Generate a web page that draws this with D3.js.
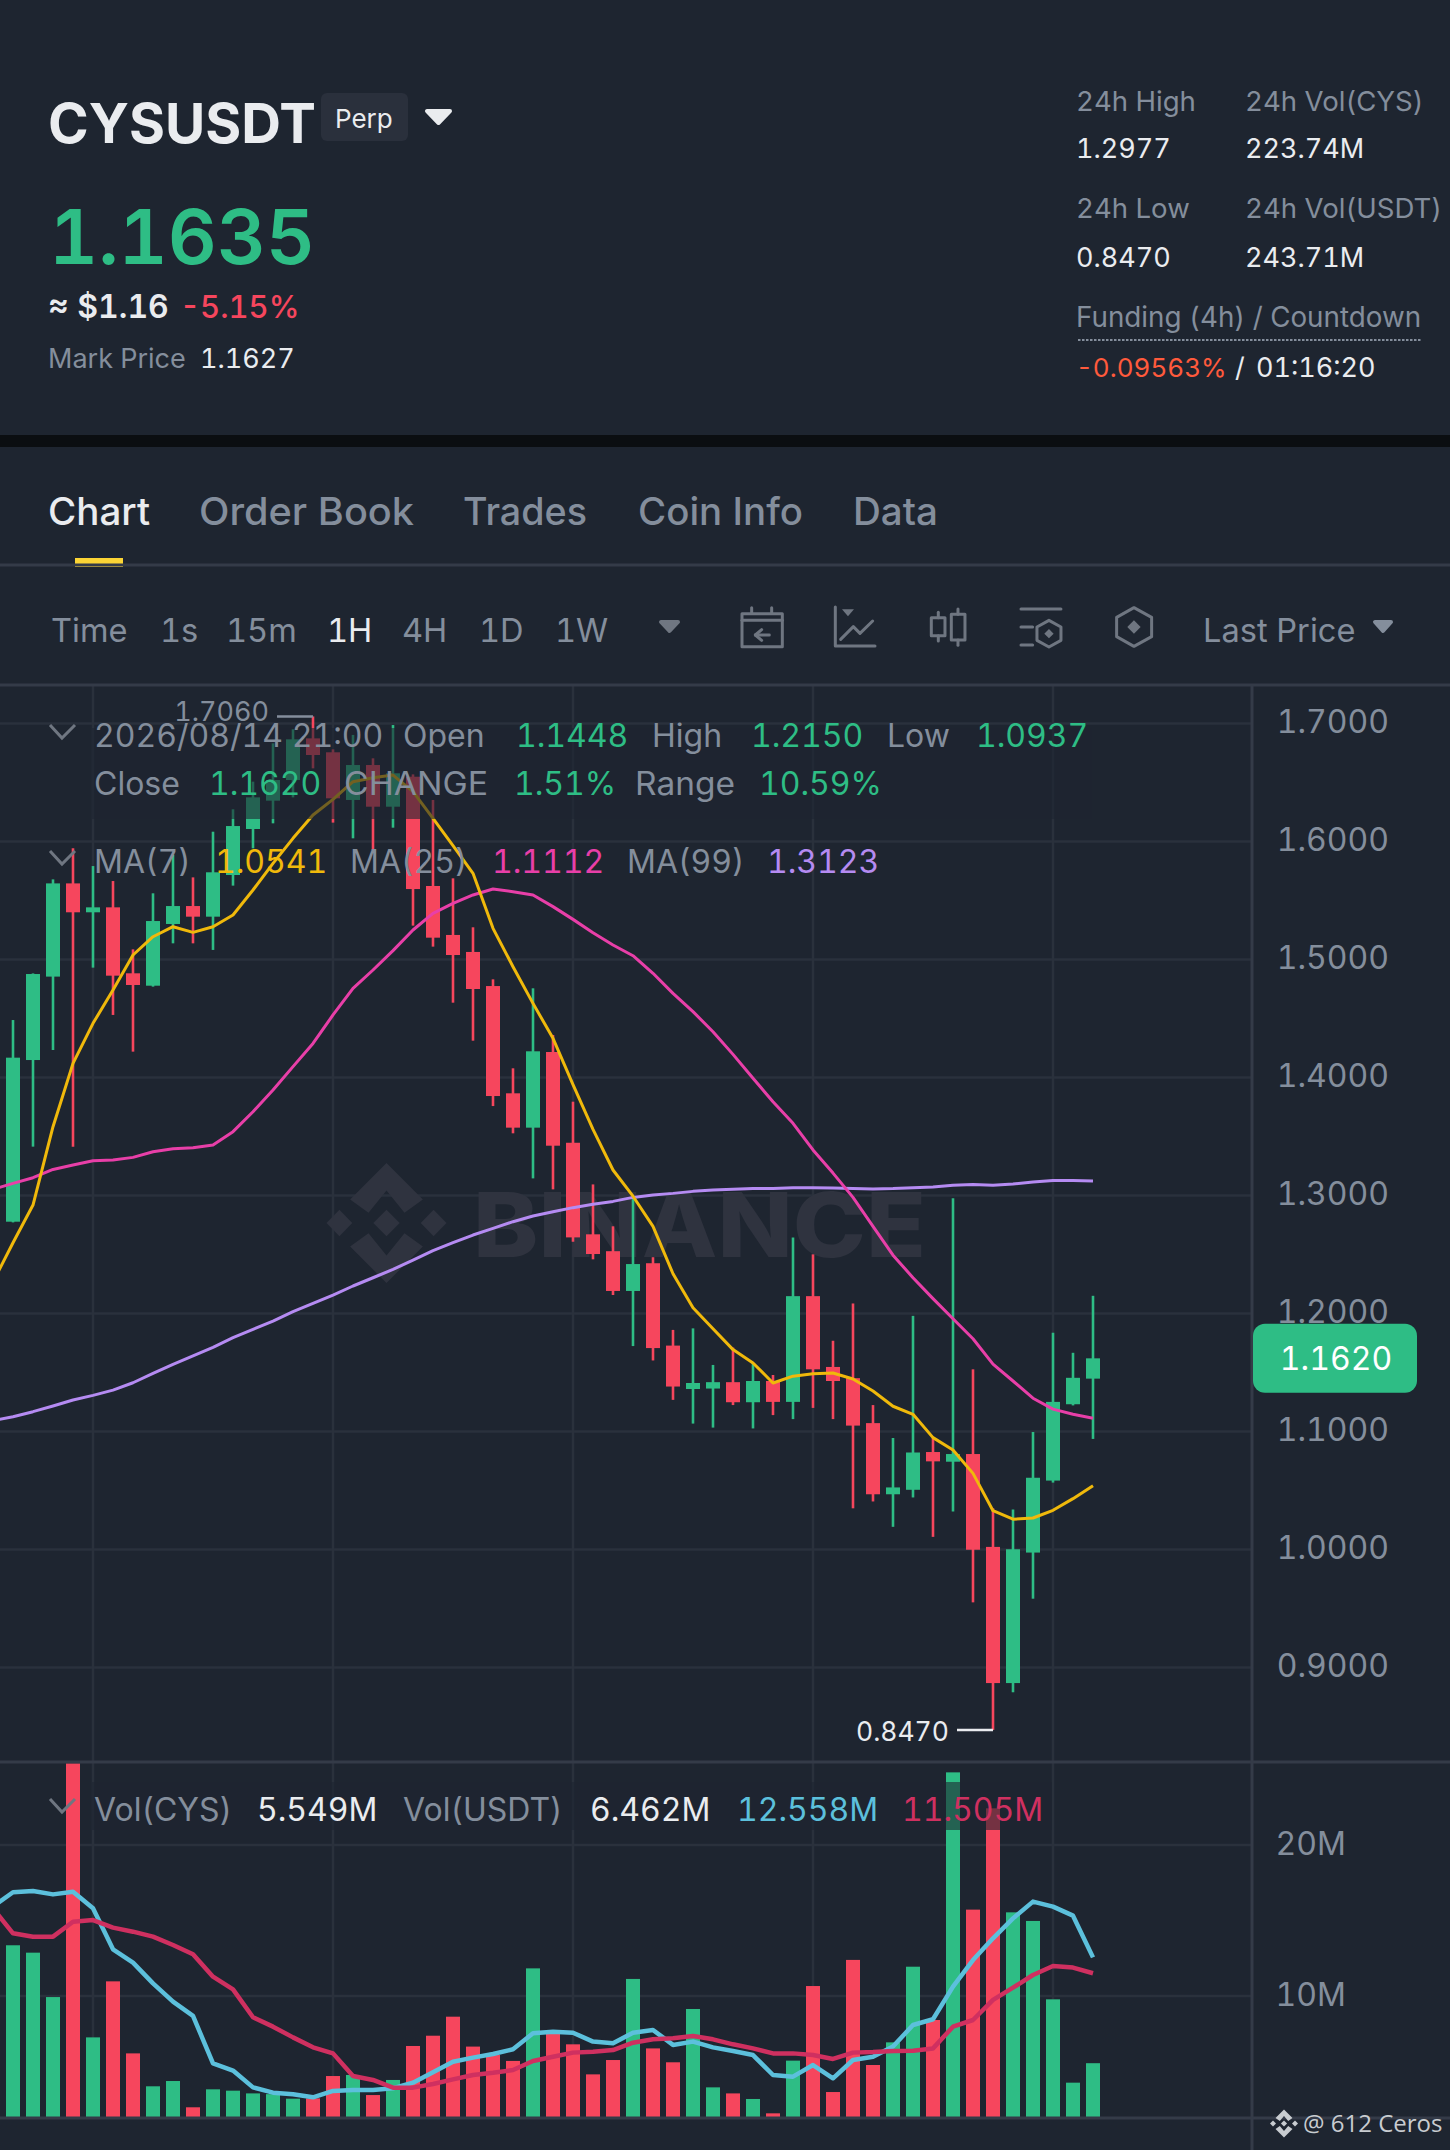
<!DOCTYPE html>
<html lang="en">
<head>
<meta charset="UTF-8">
<title>CYSUSDT Perp</title>
<script src="https://d3js.org/d3.v7.min.js"></script>
<style>
    html, body { margin: 0; padding: 0; background: #1e2530; }
    svg { display: block; }
    text { font-family: Inter, "Noto Sans", sans-serif; font-variant-numeric: tabular-nums; }
</style>
</head>
<body>
<svg id="chart" width="1450" height="2150"></svg>
<script>
// candles
const opens = [1.2778,1.4148,1.4855,1.5645,1.5400,1.5442,1.4883,1.4778,1.5301,1.5453,1.5363,1.5716,1.6106,1.6346,1.6521,1.6874,1.6756,1.6352,1.6648,1.6295,1.6549,1.5623,1.5208,1.5064,1.4775,1.3866,1.3575,1.4216,1.3447,1.2671,1.2528,1.2191,1.2426,1.1728,1.1360,1.1364,1.1418,1.1248,1.1428,1.1251,1.2147,1.1547,1.1452,1.1071,1.0468,1.0506,1.0826,1.0744,1.0809,1.0022,0.8868,0.9974,1.0584,1.1231,1.1448];
const highs = [1.4487,1.4882,1.5679,1.5942,1.5792,1.5665,1.5086,1.5561,1.5886,1.5696,1.6083,1.6273,1.6507,1.6832,1.6951,1.7060,1.6781,1.6903,1.6705,1.6987,1.6569,1.6352,1.5688,1.5273,1.4832,1.4078,1.4756,1.4360,1.3795,1.3094,1.2739,1.2977,1.2477,1.1861,1.1874,1.1564,1.1711,1.1581,1.1479,1.2644,1.2501,1.1769,1.2085,1.1224,1.0945,1.1980,1.0945,1.2977,1.1527,1.0349,1.0339,1.0996,1.1837,1.1667,1.2150];
const lows = [1.2772,1.3414,1.4233,1.3414,1.4931,1.4530,1.4219,1.4770,1.5137,1.5137,1.5081,1.5626,1.5942,1.6154,1.6374,1.6620,1.6160,1.6027,1.5928,1.6117,1.5287,1.5109,1.4634,1.4312,1.3758,1.3527,1.3145,1.3052,1.2608,1.2459,1.2157,1.1724,1.1602,1.1268,1.1067,1.1033,1.1224,1.1026,1.1139,1.1105,1.1200,1.1105,1.0349,1.0407,1.0192,1.0441,1.0107,1.0322,0.9552,0.8470,0.8790,0.9583,1.0567,1.1221,1.0937];
const closes = [1.4168,1.4877,1.5645,1.5400,1.5442,1.4863,1.4784,1.5326,1.5453,1.5363,1.5739,1.6131,1.6374,1.6521,1.6866,1.6733,1.6366,1.6648,1.6295,1.6578,1.5597,1.5185,1.5038,1.4750,1.3843,1.3575,1.4222,1.3422,1.2645,1.2504,1.2191,1.2419,1.1707,1.1381,1.1411,1.1418,1.1248,1.1428,1.1251,1.2147,1.1527,1.1428,1.1050,1.0468,1.0526,1.0822,1.0747,1.0809,0.9998,0.8868,1.0002,1.0608,1.1251,1.1455,1.1620];
const volumes = [13.36,12.87,9.93,25.41,7.26,10.97,6.20,4.02,4.37,2.63,3.82,3.73,3.55,3.50,3.20,3.22,4.70,4.77,3.44,4.44,6.69,7.37,8.63,6.65,6.09,5.70,11.83,7.53,6.80,4.81,5.76,11.13,6.53,5.61,9.14,3.95,3.55,3.18,2.23,5.72,10.66,3.64,12.39,5.43,6.93,11.94,8.41,24.81,15.72,22.43,15.54,14.97,9.78,4.26,5.55];

// moving averages start one bar before the first candle, off the left edge
const ma7 = [1.2267,1.2600,1.2919,1.3583,1.4120,1.4459,1.4741,1.5038,1.5193,1.5278,1.5230,1.5278,1.5377,1.5589,1.5815,1.6027,1.6225,1.6357,1.6507,1.6541,1.6563,1.6422,1.6196,1.5965,1.5730,1.5264,1.4939,1.4628,1.4332,1.3940,1.3560,1.3216,1.2994,1.2739,1.2337,1.2048,1.1871,1.1694,1.1581,1.1411,1.1469,1.1490,1.1496,1.1445,1.1343,1.1214,1.1146,1.0948,1.0843,1.0645,1.0329,1.0257,1.0267,1.0332,1.0431,1.0541];
const ma25 = [1.3052,1.3103,1.3151,1.3221,1.3258,1.3295,1.3301,1.3323,1.3371,1.3397,1.3405,1.3428,1.3541,1.3710,1.3894,1.4092,1.4289,1.4530,1.4756,1.4911,1.5075,1.5250,1.5391,1.5476,1.5547,1.5597,1.5575,1.5547,1.5448,1.5340,1.5227,1.5123,1.5032,1.4883,1.4713,1.4558,1.4388,1.4196,1.3993,1.3795,1.3612,1.3386,1.3190,1.2984,1.2739,1.2494,1.2303,1.2126,1.1956,1.1786,1.1571,1.1428,1.1282,1.1190,1.1146,1.1112];
const ma99 = [1.1092,1.1125,1.1168,1.1216,1.1267,1.1306,1.1351,1.1413,1.1493,1.1569,1.1640,1.1713,1.1795,1.1866,1.1936,1.2015,1.2086,1.2156,1.2233,1.2303,1.2374,1.2453,1.2532,1.2600,1.2665,1.2721,1.2778,1.2826,1.2863,1.2897,1.2925,1.2950,1.2984,1.3005,1.3018,1.3035,1.3046,1.3052,1.3059,1.3059,1.3066,1.3066,1.3063,1.3059,1.3056,1.3059,1.3066,1.3073,1.3086,1.3093,1.3086,1.3097,1.3114,1.3127,1.3127,1.3123];
const volMaA = [15.92,16.87,16.95,16.73,16.91,15.81,13.09,12.21,10.84,9.63,8.68,5.54,5.06,3.95,3.60,3.49,3.29,3.71,3.78,3.78,3.89,4.26,4.95,5.65,5.92,6.16,6.47,7.53,7.64,7.57,6.98,6.87,7.57,7.75,6.76,6.98,6.60,6.36,6.09,4.77,4.66,5.43,4.55,5.76,5.98,6.65,8.08,8.46,10.62,12.38,13.82,15.14,16.25,15.92,15.32,12.558];
const volMaB = [15.81,14.15,13.93,13.93,14.92,15.03,14.53,14.26,13.93,13.38,12.76,11.28,10.44,8.59,7.97,7.26,6.60,6.20,4.70,4.44,3.93,3.93,4.17,4.48,4.77,4.92,5.10,5.70,5.98,6.25,6.31,6.42,6.91,7.13,7.20,7.35,7.13,6.80,6.53,6.20,6.20,6.09,5.83,6.25,6.29,6.36,6.38,6.53,7.97,8.41,9.74,10.55,11.39,11.99,11.88,11.505];

// axes
const priceTicks = [1.7,1.6,1.5,1.4,1.3,1.2,1.1,1.0,0.9];
const volTicks = [20,10];
const timeGridBars = [4,16,28,40,52];

const GREEN = "#2ebd85", RED = "#f6465d", GREY = "#848e9c", WHITE = "#eaecef";
const GRID = "#2a313c", RULE = "#343b48", BG = "#1e2530";
const YELLOW = "#f0b90b", PINK = "#e83fa8", PURPLE = "#b58bf2", SKY = "#5cc0dc", ROSE = "#cf3060";

const svg = d3.select("#chart");
svg.append("rect").attr("width",1450).attr("height",2150).attr("fill",BG);

function txt(parent, x, y, s, size, fill, weight, anchor) {
    return parent.append("text").attr("x",x).attr("y",y).text(s)
        .attr("font-size",size).attr("fill",fill)
        .attr("font-weight",weight || 400).attr("text-anchor",anchor || "start");
}
function tri(parent, x0, x1, y0, y1, fill) {
    parent.append("path")
        .attr("d",`M${x0+2},${y0+2}L${x1-2},${y0+2}L${(x0+x1)/2},${y1-2}Z`)
        .attr("fill",fill).attr("stroke",fill).attr("stroke-width",4).attr("stroke-linejoin","round");
}
function chevron(parent, x, y) {
    parent.append("path").attr("d",`M${x},${y}L${x+12},${y+13}L${x+25},${y}`)
        .attr("fill","none").attr("stroke","#6f7681").attr("stroke-width",3);
}
function binanceLogo(parent, cx, cy, r, fill) {
    const shapes = [
        [[0,-1],[.606,-.39],[.3,-.17],[0,-.54],[-.3,-.17],[-.606,-.39]],
        [[0,1],[.606,.39],[.3,.17],[0,.54],[-.3,.17],[-.606,.39]],
        [[0,-.22],[.22,0],[0,.22],[-.22,0]],
        [[.785,-.22],[1,0],[.785,.22],[.57,0]],
        [[-.785,-.22],[-.57,0],[-.785,.22],[-1,0]]
    ];
    shapes.forEach(s => parent.append("polygon")
        .attr("points",s.map(p => [cx+p[0]*r,cy+p[1]*r].join(",")).join(" "))
        .attr("fill",fill));
}

// header
const head = svg.append("g");
txt(head,48,143,"CYSUSDT",55,WHITE,700);
head.append("rect").attr("x",321).attr("y",93).attr("width",87).attr("height",48).attr("rx",6).attr("fill","#2a303c");
txt(head,335,128,"Perp",26,WHITE,400);
tri(head,425,452,109,125,WHITE);
txt(head,49,264,"1.1635",76,GREEN,600);
txt(head,48,318,"≈ $1.16",32,WHITE,600);
txt(head,180,318,"-5.15%",31,RED,500);
txt(head,48,368,"Mark Price",27,GREY);
txt(head,200,368,"1.1627",27,WHITE);
txt(head,1076,111,"24h High",27.6,GREY);
txt(head,1245,111,"24h Vol(CYS)",27.6,GREY);
txt(head,1076,158,"1.2977",27,WHITE);
txt(head,1245,158,"223.74M",27,WHITE);
txt(head,1076,218,"24h Low",27.6,GREY);
txt(head,1245,218,"24h Vol(USDT)",27.6,GREY);
txt(head,1076,267,"0.8470",27,WHITE);
txt(head,1245,267,"243.71M",27,WHITE);
txt(head,1076,327,"Funding (4h) / Countdown",27.8,GREY);
head.append("line").attr("x1",1078).attr("x2",1422).attr("y1",340).attr("y2",340)
    .attr("stroke",GREY).attr("stroke-width",2).attr("stroke-dasharray","2.5 1.5");
txt(head,1076,377,"-0.09563%",26,"#ff5a3c");
txt(head,1235,377,"/",27,WHITE);
txt(head,1256,377,"01:16:20",27,WHITE);

svg.append("rect").attr("y",435).attr("width",1450).attr("height",12).attr("fill","#0b0e11");

// tabs and toolbar
const tabs = [["Chart",48,WHITE,102],["Order Book",199,GREY,215],["Trades",463,GREY,124],["Coin Info",638,GREY,165],["Data",853,GREY,85]];
tabs.forEach(t => txt(svg,t[1],525,t[0],38,t[2],500).attr("textLength",t[3]).attr("lengthAdjust","spacingAndGlyphs"));
svg.append("rect").attr("x",75).attr("y",558).attr("width",48).attr("height",9).attr("fill","#fcd535");
const tools = [["Time",51,GREY],["1s",160,GREY],["15m",226,GREY],["1H",327,WHITE],["4H",402,GREY],["1D",479,GREY],["1W",555,GREY],["Last Price",1203,GREY]];
tools.forEach(t => txt(svg,t[1],642,t[0],32.6,t[2],400));
tri(svg,659,680,620,633,"#6f7681");
tri(svg,1373,1393,620,633,GREY);

const icons = svg.append("g").attr("transform","translate(730,595) scale(0.3333)")
    .attr("fill","none").attr("stroke","#6f7681").attr("stroke-width",9).attr("stroke-linejoin","round").attr("stroke-linecap","round");
["M36,56H157V155H36Z","M36,76H157","M65,38V52","M125,38V52","M118,120H76","M95,104L76,120L95,136",
 "M316,36V153H435","M332,133L370,95L390,115L428,78",
 "M604,68H645V122H604Z","M625,52V68","M625,122V138","M664,58H705V135H664Z","M684,42V58","M684,135V151",
 "M873,42H993","M873,96H908","M873,150H908","M957,76L993,96V136L957,156L921,136V96Z",
 "M1212,38L1265,67V125L1212,154L1160,125V67Z"].forEach(d => icons.append("path").attr("d",d));
icons.append("path").attr("d","M336,43H372L354,64Z").attr("fill","#6f7681").attr("stroke","none");
icons.append("path").attr("d","M957,102L971,116L957,130L943,116Z").attr("fill","#6f7681").attr("stroke","none");
icons.append("path").attr("d","M1212,76L1232,96L1212,116L1192,96Z").attr("fill","#6f7681").attr("stroke","none");

// scales
const x = d3.scaleLinear().domain([0,54]).range([13,1093]);
const y = d3.scaleLinear().domain([0.9,1.7]).range([1667.5,723.5]);
const yVol = d3.scaleLinear().domain([0,20]).range([2147,1845]);
const volBase = 2117;

// grid
const grid = svg.append("g").attr("stroke",GRID).attr("stroke-width",2.5);
priceTicks.forEach(t => grid.append("line").attr("x1",0).attr("x2",1252).attr("y1",y(t)).attr("y2",y(t)));
volTicks.forEach(t => grid.append("line").attr("x1",0).attr("x2",1252).attr("y1",yVol(t)).attr("y2",yVol(t)));
timeGridBars.forEach(b => {
    grid.append("line").attr("x1",x(b)).attr("x2",x(b)).attr("y1",685).attr("y2",1762);
    grid.append("line").attr("x1",x(b)).attr("x2",x(b)).attr("y1",1762).attr("y2",volBase);
});

// watermark
binanceLogo(svg,386.5,1223,60,"#2f333f");
txt(svg,473,1257,"BINANCE",89,"#2f333f",800).attr("textLength",453).attr("lengthAdjust","spacingAndGlyphs");

// candles
const candles = d3.range(closes.length);
const isUp = i => closes[i] >= opens[i];
const colour = i => isUp(i) ? GREEN : RED;
svg.append("g").selectAll("line").data(candles).join("line")
    .attr("x1",i => x(i)).attr("x2",i => x(i))
    .attr("y1",i => y(highs[i])).attr("y2",i => y(lows[i]))
    .attr("stroke",colour).attr("stroke-width",2.6);
svg.append("g").selectAll("rect").data(candles).join("rect")
    .attr("x",i => x(i)-7).attr("width",14)
    .attr("y",i => y(Math.max(opens[i],closes[i])))
    .attr("height",i => Math.max(2,Math.abs(y(opens[i])-y(closes[i]))))
    .attr("fill",colour);

// volume bars
svg.append("g").selectAll("rect").data(candles).join("rect")
    .attr("x",i => x(i)-7).attr("width",14)
    .attr("y",i => yVol(volumes[i]))
    .attr("height",i => volBase-yVol(volumes[i]))
    .attr("fill",colour);

// moving averages
function maLine(values, scale, stroke, width) {
    const line = d3.line().x((d,i) => x(i-1)).y(d => scale(d));
    svg.append("path").attr("d",line(values)).attr("fill","none")
        .attr("stroke",stroke).attr("stroke-width",width).attr("stroke-linejoin","round");
}
maLine(ma99,y,PURPLE,3);
maLine(ma25,y,PINK,3);
maLine(ma7,y,YELLOW,3);
maLine(volMaA,yVol,SKY,4.5);
maLine(volMaB,yVol,ROSE,4.5);

// high and low markers
txt(svg,269,721,d3.max(highs).toFixed(4),27,GREY,400,"end");
svg.append("line").attr("x1",277).attr("x2",x(highs.indexOf(d3.max(highs)))).attr("y1",y(d3.max(highs))).attr("y2",y(d3.max(highs))).attr("stroke",GREY).attr("stroke-width",2.5);
txt(svg,949,1741,d3.min(lows).toFixed(4),26.5,WHITE,400,"end");
svg.append("line").attr("x1",957).attr("x2",x(lows.indexOf(d3.min(lows)))).attr("y1",y(d3.min(lows))).attr("y2",y(d3.min(lows))).attr("stroke",WHITE).attr("stroke-width",2.5);

// legend backdrops dim whatever is underneath
svg.append("rect").attr("x",92).attr("y",728).attr("width",1000).attr("height",91).attr("fill",BG).attr("fill-opacity",0.6);
svg.append("rect").attr("x",92).attr("y",1782).attr("width",960).attr("height",48).attr("fill",BG).attr("fill-opacity",0.6);

// legends
chevron(svg,50,725);
[["2026/08/14 21:00",94,GREY],["Open",403,GREY],["1.1448",516,GREEN],["High",652,GREY],["1.2150",751,GREEN],["Low",887,GREY],["1.0937",976,GREEN]]
    .forEach(t => txt(svg,t[1],747,t[0],32,t[2]));
[["Close",94,GREY],["1.1620",209,GREEN],["CHANGE",344,GREY,144],["1.51%",514,GREEN],["Range",635,GREY,100],["10.59%",759,GREEN]]
    .forEach(t => {
        const n = txt(svg,t[1],795,t[0],32,t[2]);
        if (t[3]) n.attr("textLength",t[3]).attr("lengthAdjust","spacingAndGlyphs");
    });
chevron(svg,50,851);
[["MA(7)",94,GREY],["1.0541",215,YELLOW],["MA(25)",350,GREY],["1.1112",492,PINK],["MA(99)",627,GREY],["1.3123",767,PURPLE]]
    .forEach(t => txt(svg,t[1],873,t[0],32,t[2]));
chevron(svg,50,1799);
[["Vol(CYS)",94,GREY],["5.549M",257,WHITE],["Vol(USDT)",403,GREY],["6.462M",590,WHITE],["12.558M",737,SKY],["11.505M",902,ROSE]]
    .forEach(t => txt(svg,t[1],1821,t[0],32,t[2]));

// panel rules
[[565],[685],[1762],[2118]].forEach(r => svg.append("line").attr("x1",0).attr("x2",1450).attr("y1",r[0]).attr("y2",r[0]).attr("stroke",RULE).attr("stroke-width",3));
svg.append("line").attr("x1",1252).attr("x2",1252).attr("y1",685).attr("y2",2150).attr("stroke",RULE).attr("stroke-width",3);

// right axes
const priceAxis = svg.append("g").attr("transform","translate(1389,0)")
    .call(d3.axisLeft(y).tickValues(priceTicks).tickFormat(d3.format(".4f")).tickSize(0).tickPadding(0));
const volAxis = svg.append("g").attr("transform","translate(1346,0)")
    .call(d3.axisLeft(yVol).tickValues(volTicks).tickFormat(d => d + "M").tickSize(0).tickPadding(0));
[priceAxis,volAxis].forEach(a => {
    a.select(".domain").remove();
    a.selectAll("text").attr("fill",GREY).attr("font-size",32).attr("dy",9)
        .style("font-family","Inter, 'Noto Sans', sans-serif");
});

// last price tag
const lastClose = closes[closes.length-1];
svg.append("rect").attr("x",1253).attr("y",y(lastClose)-34.5).attr("width",164).attr("height",69).attr("rx",12).attr("fill",GREEN);
txt(svg,1336,y(lastClose)+12,lastClose.toFixed(4),32,"#ffffff",400,"middle");

// credit
binanceLogo(svg,1284,2123.5,14,"#c8ccd0");
txt(svg,1303,2132,"@ 612 Ceros",24,"#c8ccd0").style("font-family","'Open Sans', sans-serif");
</script>
</body>
</html>
